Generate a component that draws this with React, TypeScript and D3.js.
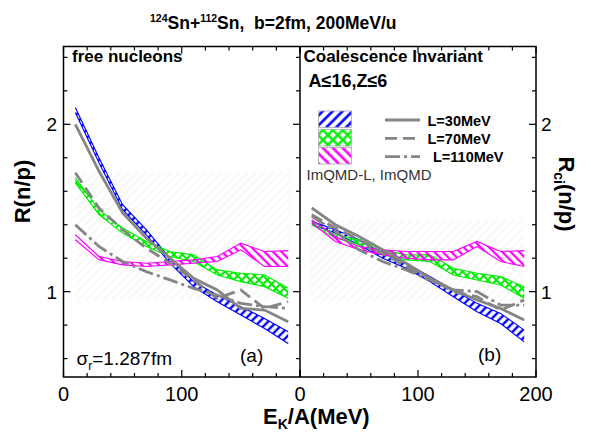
import React from "react";
import * as d3 from "d3";

// Beam energy per nucleon (MeV) at which the ratios are evaluated
const energy = [10, 30, 50, 70, 90, 110, 130, 150, 170, 190];

// (a) free nucleons — ImQMD bands, upper / lower edge
const freeL30Hi = [2.1, 1.8, 1.52, 1.37, 1.2, 1.06, 0.98, 0.91, 0.84, 0.76];
const freeL30Lo = [2.07, 1.77, 1.49, 1.34, 1.17, 1.03, 0.94, 0.86, 0.78, 0.69];
const freeL70Hi = [1.68, 1.49, 1.38, 1.3, 1.24, 1.22, 1.13, 1.11, 1.1, 1.02];
const freeL70Lo = [1.65, 1.46, 1.35, 1.27, 1.21, 1.18, 1.1, 1.06, 1.03, 0.96];
const freeL110Hi = [1.34, 1.21, 1.18, 1.17, 1.18, 1.19, 1.21, 1.29, 1.24, 1.245];
const freeL110Lo = [1.31, 1.19, 1.16, 1.15, 1.16, 1.17, 1.18, 1.25, 1.15, 1.15];
// (a) free nucleons — ImQMD-L curves
const freeLineL30 = [2.0, 1.72, 1.47, 1.32, 1.2, 1.08, 1.01, 0.9, 0.89, 0.82];
const freeLineL70 = [1.71, 1.5, 1.37, 1.26, 1.17, 1.07, 0.96, 1.01, 0.9, 0.94];
const freeLineL110 = [1.4, 1.27, 1.18, 1.12, 1.07, 1.02, 0.98, 0.93, 0.91, 0.9];

// (b) coalescence invariant — ImQMD bands, upper / lower edge
const coalL30Hi = [1.42, 1.37, 1.31, 1.23, 1.17, 1.09, 1.01, 0.93, 0.87, 0.77];
const coalL30Lo = [1.4, 1.35, 1.28, 1.2, 1.14, 1.06, 0.97, 0.88, 0.81, 0.7];
const coalL70Hi = [1.42, 1.34, 1.31, 1.25, 1.22, 1.22, 1.14, 1.11, 1.09, 1.03];
const coalL70Lo = [1.4, 1.32, 1.28, 1.22, 1.19, 1.18, 1.1, 1.07, 1.04, 0.96];
const coalL110Hi = [1.43, 1.33, 1.27, 1.25, 1.24, 1.24, 1.24, 1.3, 1.24, 1.245];
const coalL110Lo = [1.41, 1.3, 1.25, 1.22, 1.2, 1.19, 1.19, 1.27, 1.18, 1.15];
// (b) coalescence invariant — ImQMD-L curves
const coalLineL30 = [1.5, 1.4, 1.33, 1.25, 1.17, 1.08, 1.01, 0.95, 0.9, 0.83];
const coalLineL70 = [1.46, 1.38, 1.31, 1.23, 1.15, 1.08, 1.0, 0.97, 0.89, 0.95];
const coalLineL110 = [1.45, 1.36, 1.25, 1.18, 1.13, 1.07, 1.01, 1.0, 0.92, 0.92];

const xTickValues = [0, 20, 40, 60, 80, 100, 120, 140, 160, 180, 200];
const yTickValues = [0.6, 0.8, 1.0, 1.2, 1.4, 1.6, 1.8, 2.0, 2.2, 2.4];
const yLabelValues = [1, 2];
const legendLabels = ["L=30MeV", "L=70MeV", "L=110MeV"];

const FONT = "'Liberation Sans', Arial, Helvetica, sans-serif";
const GRAY = "#858585";
const BLUE = "#0000ff";
const GREEN = "#00ee00";
const MAGENTA = "#ff00ff";

const TOP = 46.5;
const BOTTOM = 377;
const LEFT = 63.5;
const MID = 300;
const RIGHT = 536;

const y = d3.scaleLinear().domain([0.49, 2.465]).range([BOTTOM, TOP]);
const xA = d3.scaleLinear().domain([0, 200]).range([LEFT, MID]);
const xB = d3.scaleLinear().domain([0, 200]).range([MID, RIGHT]);

const dashes = ["none", "12,6", "15,4,3,4"];

type Band = { hi: number[]; lo: number[]; fill: string; color: string };

function Panel({
  x,
  bands,
  lines,
  clipId,
}: {
  x: d3.ScaleLinear<number, number>;
  bands: Band[];
  lines: number[][];
  clipId: string;
}) {
  const area = d3
    .area<number>()
    .x((_, i) => x(energy[i]));
  const line = d3
    .line<number>()
    .x((_, i) => x(energy[i]))
    .y((v) => y(v));
  return (
    <g clipPath={`url(#${clipId})`}>
      {bands.map((b, k) => {
        const path = area
          .y0((_, i) => y(b.lo[i]))
          .y1((_, i) => y(b.hi[i]))(b.hi) as string;
        return (
          <g key={k}>
            <path d={path} fill={b.fill} />
            <path d={line(b.hi) as string} fill="none" stroke={b.color} strokeWidth={1.1} />
            <path d={line(b.lo) as string} fill="none" stroke={b.color} strokeWidth={1.1} />
          </g>
        );
      })}
      {lines.map((l, k) => (
        <path
          key={k}
          d={line(l) as string}
          fill="none"
          stroke={GRAY}
          strokeWidth={2.8}
          strokeDasharray={dashes[k]}
        />
      ))}
    </g>
  );
}

function Axes({ x, x0, x1 }: { x: d3.ScaleLinear<number, number>; x0: number; x1: number }) {
  const ticks: JSX.Element[] = [];
  xTickValues.forEach((v, i) => {
    const px = x(v);
    const len = v % 100 === 0 ? 7 : 4;
    ticks.push(<line key={`b${i}`} x1={px} x2={px} y1={BOTTOM} y2={BOTTOM - len} />);
    ticks.push(<line key={`t${i}`} x1={px} x2={px} y1={TOP} y2={TOP + len} />);
  });
  yTickValues.forEach((v, i) => {
    const py = y(v);
    const len = Math.abs(v - Math.round(v)) < 1e-6 ? 7 : 4;
    if (x0 === LEFT) ticks.push(<line key={`l${i}`} x1={x0} x2={x0 + len} y1={py} y2={py} />);
    ticks.push(<line key={`r${i}`} x1={x1} x2={x1 - len} y1={py} y2={py} />);
  });
  return (
    <g stroke="#000" strokeWidth={1.2}>
      {ticks}
    </g>
  );
}

export default function App() {
  const bandsA: Band[] = [
    { hi: freeL30Hi, lo: freeL30Lo, fill: "url(#hatchBlue)", color: BLUE },
    { hi: freeL70Hi, lo: freeL70Lo, fill: "url(#hatchGreen)", color: GREEN },
    { hi: freeL110Hi, lo: freeL110Lo, fill: "url(#hatchMagenta)", color: MAGENTA },
  ];
  const bandsB: Band[] = [
    { hi: coalL30Hi, lo: coalL30Lo, fill: "url(#hatchBlue)", color: BLUE },
    { hi: coalL70Hi, lo: coalL70Lo, fill: "url(#hatchGreen)", color: GREEN },
    { hi: coalL110Hi, lo: coalL110Lo, fill: "url(#hatchMagenta)", color: MAGENTA },
  ];
  const swatchFills = ["url(#hatchBlueLg)", "url(#hatchGreenLg)", "url(#hatchMagentaLg)"];
  const swatchY = [111, 129.5, 147.5];
  const legendLineY = [120, 138.3, 156.7];
  const legendTextX = [427.5, 427.5, 433];

  return (
    <svg
      width={591}
      height={434}
      style={{ position: "absolute", left: 0, top: 0, background: "#fff" }}
      fontFamily={FONT}
    >
      <defs>
        <clipPath id="clipA">
          <rect x={LEFT} y={TOP} width={MID - LEFT} height={BOTTOM - TOP} />
        </clipPath>
        <clipPath id="clipB">
          <rect x={MID} y={TOP} width={RIGHT - MID} height={BOTTOM - TOP} />
        </clipPath>
        <pattern id="hatchBlue" patternUnits="userSpaceOnUse" width={6} height={6} patternTransform="rotate(45)">
          <line x1={3} y1={0} x2={3} y2={6} stroke={BLUE} strokeWidth={2.4} />
        </pattern>
        <pattern id="hatchGreen" patternUnits="userSpaceOnUse" width={6} height={6} patternTransform="rotate(45)">
          <line x1={3} y1={0} x2={3} y2={6} stroke={GREEN} strokeWidth={2} />
          <line x1={0} y1={3} x2={6} y2={3} stroke={GREEN} strokeWidth={2} />
        </pattern>
        <pattern id="hatchMagenta" patternUnits="userSpaceOnUse" width={6} height={6} patternTransform="rotate(-45)">
          <line x1={3} y1={0} x2={3} y2={6} stroke={MAGENTA} strokeWidth={2.2} />
        </pattern>
        <pattern id="hatchBlueLg" patternUnits="userSpaceOnUse" width={7} height={7} patternTransform="translate(318,111) rotate(45)">
          <line x1={3.5} y1={0} x2={3.5} y2={7} stroke={BLUE} strokeWidth={2.6} />
        </pattern>
        <pattern id="hatchGreenLg" patternUnits="userSpaceOnUse" width={7} height={7} patternTransform="translate(318,130) rotate(45)">
          <line x1={3.5} y1={0} x2={3.5} y2={7} stroke={GREEN} strokeWidth={2.4} />
          <line x1={0} y1={3.5} x2={7} y2={3.5} stroke={GREEN} strokeWidth={2.4} />
        </pattern>
        <pattern id="hatchMagentaLg" patternUnits="userSpaceOnUse" width={7} height={7} patternTransform="translate(318,148) rotate(-45)">
          <line x1={3.5} y1={0} x2={3.5} y2={7} stroke={MAGENTA} strokeWidth={2.6} />
        </pattern>
        <pattern id="hatchFaint" patternUnits="userSpaceOnUse" width={6} height={6} patternTransform="rotate(45)">
          <line x1={3} y1={0} x2={3} y2={6} stroke="#f8f8f8" strokeWidth={2.5} />
        </pattern>
      </defs>

      {/* title */}
      <text x={150} y={29} fontSize={17.5} fontWeight="bold" xmlSpace="preserve">
        <tspan fontSize={10.5} dy={-7}>124</tspan>
        <tspan dy={7}>Sn+</tspan>
        <tspan fontSize={10.5} dy={-7}>112</tspan>
        <tspan dy={7}>Sn,  b=2fm, 200MeV/u</tspan>
      </text>

      {/* faint shaded backdrop */}
      <rect x={75} y={172} width={215} height={128} fill="url(#hatchFaint)" />
      <rect x={310} y={220} width={214} height={82} fill="url(#hatchFaint)" />

      <Panel x={xA} bands={bandsA} lines={[freeLineL30, freeLineL70, freeLineL110]} clipId="clipA" />
      <Panel x={xB} bands={bandsB} lines={[coalLineL30, coalLineL70, coalLineL110]} clipId="clipB" />

      {/* frames */}
      <rect x={LEFT} y={TOP} width={RIGHT - LEFT} height={BOTTOM - TOP} fill="none" stroke="#000" strokeWidth={1.5} />
      <line x1={MID} x2={MID} y1={TOP} y2={BOTTOM} stroke="#000" strokeWidth={1.5} />
      <Axes x={xA} x0={LEFT} x1={MID} />
      <Axes x={xB} x0={MID} x1={RIGHT} />

      {/* tick labels */}
      <g fontSize={20} textAnchor="middle">
        {[0, 100].map((v) => (
          <text key={`a${v}`} x={xA(v)} y={401}>{v}</text>
        ))}
        {[0, 100, 200].map((v) => (
          <text key={`b${v}`} x={xB(v)} y={401}>{v}</text>
        ))}
      </g>
      <g fontSize={19}>
        {yLabelValues.map((v) => (
          <text key={`l${v}`} x={57} y={y(v) + 7} textAnchor="end">{v}</text>
        ))}
        {yLabelValues.map((v) => (
          <text key={`r${v}`} x={541} y={y(v) + 7}>{v}</text>
        ))}
      </g>

      {/* axis titles */}
      <text x={263} y={424} fontSize={22} fontWeight="bold">
        E<tspan fontSize={14} dy={5}>K</tspan>
        <tspan dy={-5}>/A(MeV)</tspan>
      </text>
      <text transform="translate(30,191.5) rotate(-90)" fontSize={22} fontWeight="bold" textAnchor="middle">
        R(n/p)
      </text>
      <text transform="translate(558.5,194) rotate(90)" fontSize={22} fontWeight="bold" textAnchor="middle">
        R<tspan fontSize={14} dy={5}>ci</tspan>
        <tspan dy={-5}>(n/p)</tspan>
      </text>

      {/* panel annotations */}
      <text x={72} y={62} fontSize={17} fontWeight="bold">free nucleons</text>
      <text x={303.5} y={62} fontSize={17} fontWeight="bold">Coalescence Invariant</text>
      <text x={308.5} y={87} fontSize={18} fontWeight="bold">A≤16,Z≤6</text>
      <text x={76.5} y={365} fontSize={19}>
        σ<tspan fontSize={12} dy={5}>r</tspan>
        <tspan dy={-5}>=1.287fm</tspan>
      </text>
      <text x={240} y={362} fontSize={19}>(a)</text>
      <text x={478} y={361} fontSize={19}>(b)</text>

      {/* legend */}
      {swatchFills.map((f, i) => (
        <rect key={`s${i}`} x={318.5} y={swatchY[i]} width={33} height={16.5} fill={f} stroke="#aaa" strokeWidth={0.8} />
      ))}
      {legendLabels.map((t, i) => (
        <g key={`g${i}`}>
          <line
            x1={385}
            x2={420}
            y1={legendLineY[i]}
            y2={legendLineY[i]}
            stroke={GRAY}
            strokeWidth={2.8}
            strokeDasharray={dashes[i]}
          />
          <text x={legendTextX[i]} y={legendLineY[i] + 5.5} fontSize={14.5} fontWeight="bold">
            {t}
          </text>
        </g>
      ))}
      <text x={306.5} y={179.5} fontSize={15} fill="#333">ImQMD-L, ImQMD</text>
    </svg>
  );
}
